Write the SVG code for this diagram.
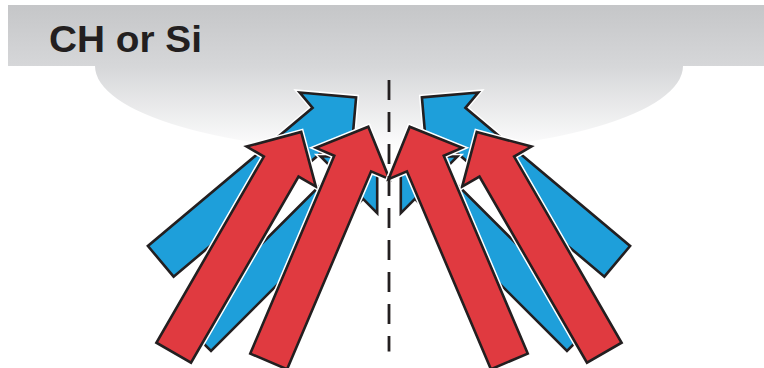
<svg xmlns="http://www.w3.org/2000/svg" xmlns:xlink="http://www.w3.org/1999/xlink" width="764" height="368" viewBox="0 0 764 368">
  <defs>
    <linearGradient id="bg" gradientUnits="userSpaceOnUse" x1="0" y1="5" x2="0" y2="152">
      <stop offset="0" stop-color="#c5c6c8"/>
      <stop offset="0.42" stop-color="#d6d7d9"/>
      <stop offset="1" stop-color="#ffffff"/>
    </linearGradient>
    <path id="arrow" d="M0,0 L40,40 L20,40 L20,255 L-20,255 L-20,40 L-40,40 Z"/>
  </defs>
  <style>
    .halo { fill: none; stroke: #ffffff; stroke-width: 5.6; stroke-linejoin: miter; }
    .blue { fill: #1e9fda; stroke: #231f20; stroke-width: 2.6; stroke-linejoin: miter; }
    .red { fill: #e03a40; stroke: #231f20; stroke-width: 2.6; stroke-linejoin: miter; }
    .title { font-family: "Liberation Sans", Arial, sans-serif; font-weight: bold; font-size: 37px; fill: #231f20; }
    .axis { stroke: #231f20; stroke-width: 2.8; stroke-dasharray: 20 12; fill: none; }
  </style>

  <g id="surface">
    <path d="M8,5 H764 V66 H683 A294,86 0 0 1 95,66 H8 Z" fill="url(#bg)"/>
    <text class="title" x="49" y="52" textLength="153" lengthAdjust="spacingAndGlyphs">CH or Si</text>
  </g>

  <g id="connectors">
    <g id="blue-left-outer" transform="translate(356.1,97.4) rotate(50)">
      <use xlink:href="#arrow" class="halo"/><use xlink:href="#arrow" class="blue"/>
    </g>
    <g id="blue-right-outer" transform="translate(421.9,97.4) rotate(-50)">
      <use xlink:href="#arrow" class="halo"/><use xlink:href="#arrow" class="blue"/>
    </g>
    <g id="blue-left-inner" transform="translate(377.2,156.5) rotate(45)">
      <use xlink:href="#arrow" class="halo"/><use xlink:href="#arrow" class="blue"/>
    </g>
    <g id="blue-right-inner" transform="translate(400.8,156.5) rotate(-45)">
      <use xlink:href="#arrow" class="halo"/><use xlink:href="#arrow" class="blue"/>
    </g>
    <g id="red-left-outer" transform="translate(301.2,131.9) rotate(30)">
      <use xlink:href="#arrow" class="halo"/><use xlink:href="#arrow" class="red"/>
    </g>
    <g id="red-right-outer" transform="translate(476.8,131.9) rotate(-30)">
      <use xlink:href="#arrow" class="halo"/><use xlink:href="#arrow" class="red"/>
    </g>
    <g id="red-left-inner" transform="translate(368.3,126.7) rotate(23)">
      <use xlink:href="#arrow" class="halo"/><use xlink:href="#arrow" class="red"/>
    </g>
    <g id="red-right-inner" transform="translate(409.7,126.7) rotate(-23)">
      <use xlink:href="#arrow" class="halo"/><use xlink:href="#arrow" class="red"/>
    </g>
  </g>

  <g id="symmetry-axis">
    <line class="axis" x1="389" y1="80" x2="389" y2="351.5"/>
  </g>
</svg>
